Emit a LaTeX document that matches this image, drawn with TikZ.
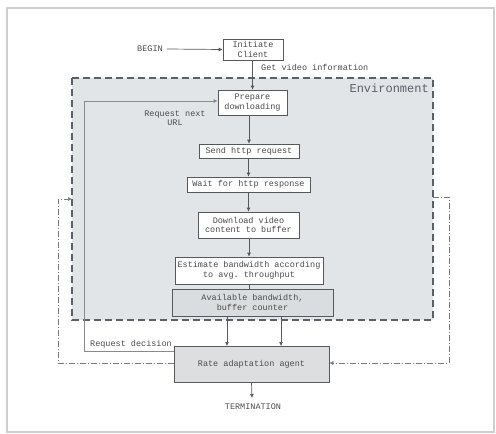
\documentclass[tikz,border=0pt]{standalone}
\usepackage{fontspec}
\setmonofont{Liberation Mono}
\usetikzlibrary{arrows.meta}
\definecolor{envfill}{HTML}{E2E5E8}
\definecolor{envline}{HTML}{5A6068}
\definecolor{boxline}{HTML}{55585C}
\definecolor{txt}{HTML}{4A4A4A}
\definecolor{agentfill}{HTML}{DCDEE0}
\definecolor{availfill}{HTML}{DADDE0}
\definecolor{frame}{HTML}{CFCFCF}
\tikzset{
  proc/.style={draw=boxline, line width=0.7pt, fill=white, align=center, inner sep=1pt, text=txt},
  grayproc/.style={proc, fill=availfill},
  lbl/.style={text=txt, align=center, inner sep=0pt},
  flow/.style={draw=boxline, line width=0.7pt, -{Latex[length=4pt,width=4pt]}},
  plain/.style={draw=boxline, line width=0.7pt},
  loop/.style={draw=boxline!80, line width=0.6pt, dash pattern=on 6pt off 2pt on 1pt off 2pt, -{Latex[length=4pt,width=4pt]}},
  envbox/.style={draw=envline, fill=envfill, line width=1.4pt, dash pattern=on 7pt off 4pt},
}
\begin{document}
\begin{tikzpicture}[x=1pt,y=-1pt, font=\ttfamily\fontsize{8.5}{9.5}\selectfont]
\useasboundingbox (0,0) rectangle (496,434);
\draw[frame, line width=1.5pt] (7,8) rectangle (494,432);

% environment
\draw[envbox] (72,78) rectangle (433,320);
\node[lbl, anchor=east, font=\ttfamily\fontsize{12}{12}\selectfont, text=envline] (envlbl) at (429,88) {Environment};

% nodes
\node[lbl] (begin) at (150,49) {BEGIN};
\node[proc, minimum width=60pt, minimum height=21pt] (init) at (253,49.5) {Initiate\\Client};
\node[proc, minimum width=69pt, minimum height=25pt] (prep) at (252.5,102.5) {Prepare\\downloading};
\node[proc, minimum width=100pt, minimum height=14pt] (send) at (249,151) {Send http request};
\node[proc, minimum width=123pt, minimum height=15pt] (wait) at (248.5,184.5) {Wait for http response};
\node[proc, minimum width=101pt, minimum height=26pt] (down) at (248.5,225) {Download video\\content to buffer};
\node[proc, minimum width=148pt, minimum height=27pt] (est) at (249,270.5) {Estimate bandwidth according\\to avg. throughput};
\node[grayproc, minimum width=161pt, minimum height=27pt] (avail) at (252.5,302.5) {Available bandwidth,\\buffer counter};
\node[proc, fill=agentfill, minimum width=155pt, minimum height=36pt] (rate) at (251.5,364) {Rate adaptation agent};
\node[lbl] (term) at (253,407) {TERMINATION};

% labels
\node[lbl, anchor=west] (getinfo) at (261,67) {Get video information};
\node[lbl] (reqnext) at (175,118) {Request next\\URL};
\node[lbl] (reqdec) at (131,344) {Request decision};

% coordinates
\coordinate (a1) at (227,316);
\coordinate (a2) at (281,316);
\coordinate (r1) at (227,346);
\coordinate (r2) at (281,346);
\coordinate (dl) at (84,351);
\coordinate (ul) at (84,101);
\coordinate (tend) at (252,398);
\coordinate (lb) at (58,363);
\coordinate (lt) at (58,199);
\coordinate (envl) at (72,199);
\coordinate (envr) at (433,197);
\coordinate (rt) at (449,197);
\coordinate (rb) at (449,363);

% connectors
\draw[flow] (begin.east) ++(4,0) -- (init.west);
\draw[flow] (init.south -| prep.north) -- (prep.north);
\draw[flow] (prep.south -| send.north) -- (send.north);
\draw[flow] (send.south -| wait.north) -- (wait.north);
\draw[flow] (wait.south -| down.north) -- (down.north);
\draw[flow] (down.south -| est.north) -- (est.north);
\draw[plain] (est.south) -- (est.south |- avail.north);
\draw[flow] (a1) -- (r1);
\draw[flow] (a2) -- (r2);
\draw[flow] (rate.south) -- (tend);
\draw[flow, draw=boxline!70] (rate.west |- dl) -- (dl) -- (ul) -- (prep.west |- ul);
\draw[loop] (rate.west |- lb) -- (lb) -- (lt) -- (envl);
\draw[loop] (envr) -- (rt) -- (rb) -- (rate.east |- rb);
\end{tikzpicture}
\end{document}
